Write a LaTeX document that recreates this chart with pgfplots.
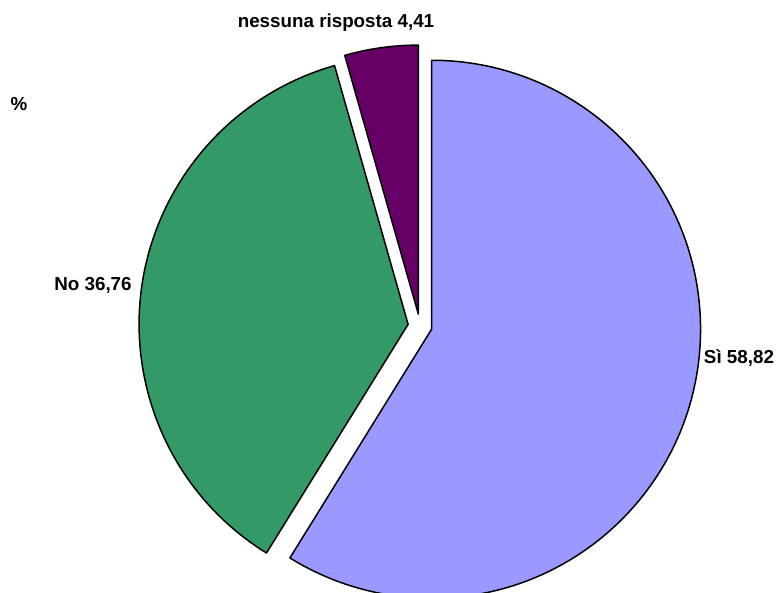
\documentclass[border=0pt]{standalone}
\usepackage{pgfplots}
\pgfplotsset{compat=1.18}
\usepackage{pgfplotstable}
\usepackage{fontspec}
\setmainfont{Liberation Sans}
\usetikzlibrary{calc}

\definecolor{si}{HTML}{9999FF}
\definecolor{no}{HTML}{339966}
\definecolor{nr}{HTML}{660066}

% risposte (%)
\pgfplotstableread[col sep=comma]{
label,value
Si,58.82
No,36.76
nessuna,4.41
}\piedata

\pgfplotstablegetelem{0}{value}\of\piedata \let\vSi\pgfplotsretval
\pgfplotstablegetelem{1}{value}\of\piedata \let\vNo\pgfplotsretval
\pgfplotstablegetelem{2}{value}\of\piedata \let\vNr\pgfplotsretval

\pgfmathsetmacro\tot{\vSi+\vNo+\vNr}
% clockwise from 12 o'clock
\pgfmathsetmacro\sA{90}
\pgfmathsetmacro\eA{\sA-\vSi/\tot*360}
\pgfmathsetmacro\eB{\eA-\vNo/\tot*360}
\pgfmathsetmacro\eC{\eB-\vNr/\tot*360}
\pgfmathsetmacro\mA{(\sA+\eA)/2}
\pgfmathsetmacro\mB{(\eA+\eB)/2}
\pgfmathsetmacro\mC{(\eB+\eC)/2}

\def\R{134.5pt}
\def\ex{6pt}

\pgfkeys{/pgf/number format/.cd,fixed,fixed zerofill,precision=2,use comma,assume math mode=true}

\begin{document}
\begin{tikzpicture}
\begin{axis}[
    scale only axis,
    width=388.5pt, height=296.5pt,
    xmin=0, xmax=777, ymin=0, ymax=593,
    hide axis,
    clip=true,
]
\path (axis cs:0,0) rectangle (axis cs:777,593);
\coordinate (C) at (axis cs:420,267);

\filldraw[fill=si, draw=black, line width=0.75pt, line join=round]
    ($(C)+(\mA:\ex)$) -- ++(\sA:\R) arc[start angle=\sA, end angle=\eA, radius=\R] -- cycle;
\filldraw[fill=no, draw=black, line width=0.75pt, line join=round]
    ($(C)+(\mB:\ex)$) -- ++(\eA:\R) arc[start angle=\eA, end angle=\eB, radius=\R] -- cycle;
\filldraw[fill=nr, draw=black, line width=0.75pt, line join=round]
    ($(C)+(\mC:\ex)$) -- ++(\eB:\R) arc[start angle=\eB, end angle=\eC, radius=\R] -- cycle;

\begin{scope}[every node/.style={font=\fontsize{9.4}{11}\selectfont\bfseries, inner sep=0pt}]
\node at (axis cs:739,235) {Sì \pgfmathprintnumber{\vSi}};
\node at (axis cs:93,308) {No \pgfmathprintnumber{\vNo}};
\node at (axis cs:336,570) {nessuna risposta \pgfmathprintnumber{\vNr}};
\node at (axis cs:19,489) {\%};
\end{scope}
\end{axis}
\end{tikzpicture}
\end{document}
